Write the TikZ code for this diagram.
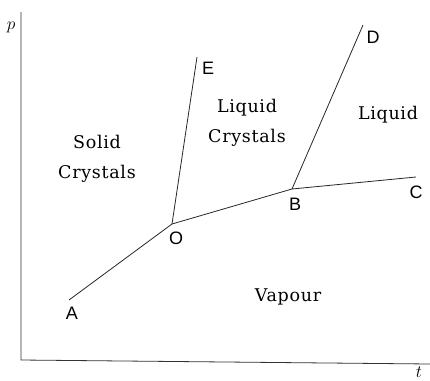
\documentclass[tikz,border=0pt]{standalone}
\usepackage{fontspec}
\newfontfamily\ptfont{Liberation Sans}
\newfontfamily\regfont[LetterSpace=4]{DejaVu Serif}
\usepackage{tikz}
\usetikzlibrary{positioning}

\begin{document}
\begin{tikzpicture}[
  x=1pt, y=-1pt,
  curve/.style={line width=0.8pt, black!85},
  axis/.style={line width=0.8pt, black!80},
  region/.style={font=\regfont\fontsize{17.5}{30}\selectfont,
                 align=center, inner sep=0pt},
  pt/.style={font=\ptfont\fontsize{18}{20}\selectfont, inner sep=0pt},
  axlabel/.style={font=\fontsize{16}{16}\selectfont, inner sep=0pt}
]
\useasboundingbox (0,0) rectangle (430,380);

% axes
\coordinate (origin) at (21,360);
\coordinate (ptop)   at (21,12);
\coordinate (tend)   at (430,364);
\draw[axis] (ptop) -- (origin) -- (tend);
\node[axlabel] (plab) at (11,27)  {$p$};
\node[axlabel] (tlab) at (419,372) {$t$};

% triple points and curve ends
\coordinate (A) at (69,300);
\coordinate (O) at (172,224);
\coordinate (E) at (197,57);
\coordinate (B) at (292,189);
\coordinate (D) at (363,25);
\coordinate (C) at (416,177);

\draw[curve] (A) -- (O) -- (B) -- (C);
\draw[curve] (O) -- (E);
\draw[curve] (B) -- (D);

% point labels
\node[pt] (Alab) at (72,313)  {A};
\node[pt] (Olab) at (176,238) {O};
\node[pt] (Blab) at (295,204) {B};
\node[pt] (Clab) at (416,192) {C};
\node[pt] (Dlab) at (373,37)  {D};
\node[pt] (Elab) at (208,68)  {E};

% regions
\node[region] (solid)   at (97,159)  {Solid\\Crystals};
\node[region] (lqcryst) at (247,123) {Liquid\\Crystals};
\node[region] (liquid)  at (388,115) {Liquid};
\node[region] (vapour)  at (288,297) {Vapour};

\end{tikzpicture}
\end{document}
